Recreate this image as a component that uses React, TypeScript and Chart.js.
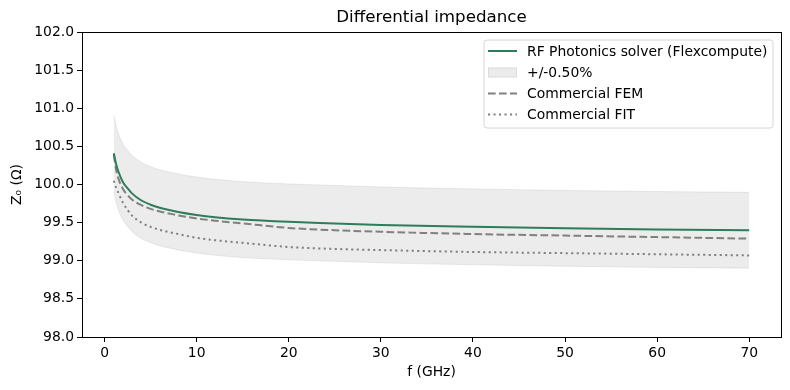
import React, { useEffect, useRef } from "react";
import { Chart, registerables } from "chart.js";

Chart.register(...registerables);

const freqs = [1, 1.25, 1.5, 2, 2.5, 3, 4, 5, 6, 7, 8, 10, 12, 15, 20, 25, 30, 40, 50, 60, 70];
const rfSolver = [100.41, 100.27, 100.17, 100.03, 99.95, 99.88, 99.79, 99.735, 99.695, 99.665, 99.64, 99.6, 99.57, 99.54, 99.51, 99.49, 99.47, 99.445, 99.425, 99.41, 99.4];
const femValues = [100.39, 100.2, 100.08, 99.94, 99.86, 99.8, 99.73, 99.68, 99.645, 99.62, 99.595, 99.555, 99.525, 99.49, 99.43, 99.4, 99.38, 99.35, 99.33, 99.31, 99.29];
const fitValues = [100.05, 99.96, 99.89, 99.76, 99.665, 99.59, 99.5, 99.445, 99.405, 99.375, 99.35, 99.3, 99.27, 99.235, 99.18, 99.155, 99.14, 99.115, 99.1, 99.085, 99.07];
const bandPercent = 0.5;
const xTicks = [0, 10, 20, 30, 40, 50, 60, 70];
const yTicks = [98, 98.5, 99, 99.5, 100, 100.5, 101, 101.5, 102];

const title = "Differential impedance";
const legendLabels = ["RF Photonics solver (Flexcompute)", "+/-0.50%", "Commercial FEM", "Commercial FIT"];

const GREEN = "#2d7d5a";
const GRAY = "#808080";
const BAND_FILL = "rgba(128,128,128,0.15)";
const FONT = "DejaVu Sans";

const pts = (vals: number[]) => freqs.map((f, i) => ({ x: f, y: vals[i] }));

const decorPlugin = {
  id: "decor",
  afterDraw(chart: any) {
    const ctx = chart.ctx as CanvasRenderingContext2D;
    const a = chart.chartArea;
    ctx.save();
    // frame
    ctx.strokeStyle = "#000";
    ctx.lineWidth = 1;
    ctx.strokeRect(Math.round(a.left) + 0.5, Math.round(a.top) + 0.5, Math.round(a.right - a.left), Math.round(a.bottom - a.top));
    // title
    ctx.fillStyle = "#000";
    ctx.font = `16.7px '${FONT}'`;
    ctx.textAlign = "center";
    ctx.textBaseline = "middle";
    ctx.fillText(title, (a.left + a.right) / 2, 18);
    // legend
    const bx = 484, by = 40, bw = 289, bh = 88;
    ctx.beginPath();
    const r = 3;
    ctx.moveTo(bx + r, by);
    ctx.arcTo(bx + bw, by, bx + bw, by + bh, r);
    ctx.arcTo(bx + bw, by + bh, bx, by + bh, r);
    ctx.arcTo(bx, by + bh, bx, by, r);
    ctx.arcTo(bx, by, bx + bw, by, r);
    ctx.closePath();
    ctx.fillStyle = "rgba(255,255,255,0.8)";
    ctx.fill();
    ctx.strokeStyle = "#d6d6d6";
    ctx.lineWidth = 1;
    ctx.stroke();
    const rows = [51, 72.5, 93.5, 114.5];
    const hx0 = 488, hx1 = 517;
    ctx.font = `13.9px '${FONT}'`;
    ctx.textAlign = "left";
    ctx.textBaseline = "middle";
    rows.forEach((y, i) => {
      ctx.save();
      if (i === 1) {
        ctx.fillStyle = BAND_FILL;
        ctx.fillRect(hx0, y - 5, hx1 - hx0, 10);
        ctx.strokeStyle = BAND_FILL;
        ctx.strokeRect(hx0 + 0.5, y - 4.5, hx1 - hx0 - 1, 9);
      } else {
        ctx.beginPath();
        ctx.lineWidth = 2;
        ctx.strokeStyle = i === 0 ? GREEN : GRAY;
        if (i === 2) ctx.setLineDash([7.7, 3.3]);
        if (i === 3) ctx.setLineDash([2.1, 3.4]);
        ctx.moveTo(hx0, y);
        ctx.lineTo(hx1, y);
        ctx.stroke();
      }
      ctx.restore();
      ctx.fillStyle = "#000";
      ctx.fillText(legendLabels[i], 527, y + 1);
    });
    ctx.restore();
  },
};

export default function App() {
  const ref = useRef<HTMLCanvasElement | null>(null);
  useEffect(() => {
    if (!ref.current) return;
    const upper = rfSolver.map((v) => v * (1 + bandPercent / 100));
    const lower = rfSolver.map((v) => v * (1 - bandPercent / 100));
    const tickFont = { family: FONT, size: 13.9 };
    const chart = new Chart(ref.current, {
      type: "line",
      data: {
        datasets: [
          { label: legendLabels[0], data: pts(rfSolver), borderColor: GREEN, borderWidth: 2, pointRadius: 0, cubicInterpolationMode: "monotone", fill: false },
          { label: legendLabels[2], data: pts(femValues), borderColor: GRAY, borderWidth: 2, borderDash: [7.7, 3.3], pointRadius: 0, cubicInterpolationMode: "monotone", fill: false },
          { label: legendLabels[3], data: pts(fitValues), borderColor: GRAY, borderWidth: 2, borderDash: [2.1, 3.4], pointRadius: 0, cubicInterpolationMode: "monotone", fill: false },
          { label: "upper", data: pts(upper), borderColor: BAND_FILL, borderWidth: 1, backgroundColor: BAND_FILL, pointRadius: 0, cubicInterpolationMode: "monotone", fill: "+1" },
          { label: "lower", data: pts(lower), borderColor: BAND_FILL, borderWidth: 1, pointRadius: 0, cubicInterpolationMode: "monotone", fill: false },
        ] as any,
      },
      options: {
        animation: false,
        responsive: false,
        devicePixelRatio: 1,
        layout: { padding: { top: 32, right: 9, left: 0, bottom: 0 } },
        plugins: { legend: { display: false }, title: { display: false }, tooltip: { enabled: false } },
        scales: {
          x: {
            type: "linear",
            min: -2.45,
            max: 73.45,
            afterBuildTicks: (axis: any) => { axis.ticks = xTicks.map((v) => ({ value: v })); },
            afterFit: (axis: any) => { axis.height = 53; },
            ticks: { font: tickFont, color: "#000", padding: 3, maxRotation: 0, callback: (v: any) => String(v) },
            grid: { display: true, drawOnChartArea: false, tickLength: 5, color: "#000" },
            border: { display: true, color: "#000" },
            title: { display: true, text: "f (GHz)", font: tickFont, color: "#000", padding: 9 },
          },
          y: {
            type: "linear",
            min: 98,
            max: 102,
            afterBuildTicks: (axis: any) => { axis.ticks = yTicks.map((v) => ({ value: v })); },
            afterFit: (axis: any) => { axis.width = 82; },
            ticks: { font: tickFont, color: "#000", padding: 3, callback: (v: any) => Number(v).toFixed(1) },
            grid: { display: true, drawOnChartArea: false, tickLength: 5, color: "#000" },
            border: { display: true, color: "#000" },
            title: { display: true, text: "Z\u2080 (\u03A9)", font: tickFont, color: "#000", padding: 9 },
          },
        },
      } as any,
      plugins: [decorPlugin],
    });
    return () => chart.destroy();
  }, []);
  return (
    <div style={{ position: "fixed", left: 0, top: 0, width: 790, height: 390, background: "#fff" }}>
      <canvas ref={ref} width={790} height={390} style={{ width: 790, height: 390, display: "block" }} />
    </div>
  );
}
